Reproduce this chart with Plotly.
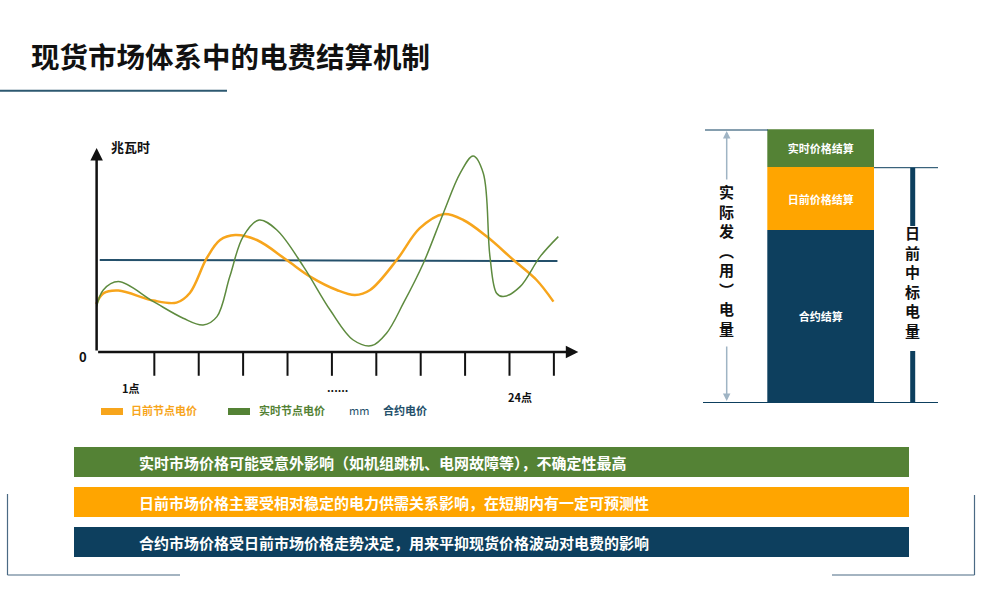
import plotly.graph_objects as go

W, H = 989, 599
FONT = "Noto Sans CJK SC"

# ---------------- data ----------------
title_text = "现货市场体系中的电费结算机制"

# 日前节点电价 (day-ahead nodal price)
da_x = [-0.31, -0.15, 0.19, 0.98, 1.50, 1.80, 2.18, 2.48, 2.82, 3.31, 3.98, 4.51,
        5.11, 5.52, 5.86, 6.46, 6.98, 7.51, 7.96, 8.49, 9.09, 9.61, 9.99]
da_y = [24, 29.3, 30.7, 25.7, 24.7, 29.5, 46.9, 56, 58.5, 56, 46, 37.7,
        31, 28.5, 31, 46, 61.9, 68.9, 66, 57.7, 46, 36, 25.2]

# 实时节点电价 (real-time nodal price)
rt_x = [-0.30, -0.15, 0.19, 0.98, 1.65, 2.10, 2.41, 2.70, 3.00, 3.36, 3.76, 4.36,
        4.96, 5.48, 5.90, 6.23, 6.61, 7.06, 7.51, 7.89, 8.18, 8.41, 8.56, 8.71,
        8.86, 9.24, 9.69, 10.10]
rt_y = [22.7, 31, 35.2, 25.2, 16.9, 13.5, 17.7, 37.7, 57.7, 66, 61, 42.7,
        21, 6, 3.2, 9.4, 24.4, 44.4, 69.4, 89.4, 98, 89.4, 47.7, 29.4,
        27.7, 32.7, 47.7, 57.7]

# 合约电价 (contract price)
ct_x = [-0.23, 10.08]
ct_y = [46, 45.5]

tick_x = [1, 2, 3, 4, 5, 6, 7, 8, 9, 10]
x_labels = ["1点", "......", "24点"]
legend_labels = ["日前节点电价", "实时节点电价", "合约电价"]

# settlement stack (share of actual energy)
settle_labels = ["合约结算", "日前价格结算", "实时价格结算"]
settle_values = [63, 23, 14]

left_vtext = ["实", "际", "发", "︵", "用", "︶", "电", "量"]
right_vtext = ["日", "前", "中", "标", "电", "量"]

banner_texts = [
    "实时市场价格可能受意外影响（如机组跳机、电网故障等），不确定性最高",
    "日前市场价格主要受相对稳定的电力供需关系影响，在短期内有一定可预测性",
    "合约市场价格受日前市场价格走势决定，用来平抑现货价格波动对电费的影响",
]

# ---------------- styles ----------------
ORANGE = "#F7A51C"
GREEN_LINE = "#5E8B3F"
BLUE_LINE = "#24506B"
BAR_GREEN = "#548235"
BAR_ORANGE = "#FFA500"
NAVY = "#0D3F5E"
SLATE = "#4A6A84"


def X(px):
    return px / W


def Y(py):
    return 1 - py / H


fig = go.Figure()

fig.add_trace(go.Scatter(x=ct_x, y=ct_y, mode="lines",
                         line=dict(color=BLUE_LINE, width=2), showlegend=False))
fig.add_trace(go.Scatter(x=da_x, y=da_y, mode="lines",
                         line=dict(color=ORANGE, width=2.5, shape="spline", smoothing=1.0),
                         showlegend=False))
fig.add_trace(go.Scatter(x=rt_x, y=rt_y, mode="lines",
                         line=dict(color=GREEN_LINE, width=1.5, shape="spline", smoothing=1.0),
                         showlegend=False))

bar_colors = [NAVY, BAR_ORANGE, BAR_GREEN]
for lab, val, col in zip(settle_labels, settle_values, bar_colors):
    fig.add_trace(go.Bar(x=[0], y=[val], xaxis="x2", yaxis="y2", width=1,
                         marker=dict(color=col, line=dict(width=0)),
                         text=["<b>" + lab + "</b>"], textposition="inside",
                         insidetextanchor="middle", textangle=0,
                         textfont=dict(color="white", size=11, family=FONT),
                         showlegend=False, hoverinfo="skip"))

shapes = []
annotations = []


def label(px, py, text, size, color="#111111", xanchor="center", bold=True):
    annotations.append(dict(x=X(px), y=Y(py), xref="paper", yref="paper", showarrow=False,
                            xanchor=xanchor, yanchor="middle",
                            text=("<b>" + text + "</b>") if bold else text,
                            font=dict(size=size, color=color, family=FONT)))


def pline(x0, y0, x1, y1, color, width):
    shapes.append(dict(type="line", xref="paper", yref="paper", x0=X(x0), x1=X(x1),
                       y0=Y(y0), y1=Y(y1), line=dict(color=color, width=width)))


def prect(x0, y0, x1, y1, color):
    shapes.append(dict(type="rect", xref="paper", yref="paper", x0=X(x0), x1=X(x1),
                       y0=Y(y1), y1=Y(y0), fillcolor=color, line=dict(width=0)))


# title + underline
label(29, 56, title_text, 28.5, xanchor="left")
pline(0, 90.7, 227, 90.7, "#2D5870", 2)

# axes with arrows
annotations.append(dict(x=10.55, y=0, ax=-0.3, ay=0, xref="x", yref="y", axref="x", ayref="y",
                        showarrow=True, arrowhead=2, arrowsize=1, arrowwidth=2.5,
                        arrowcolor="#111111", text=""))
annotations.append(dict(x=-0.3, y=102, ax=-0.3, ay=0, xref="x", yref="y", axref="x", ayref="y",
                        showarrow=True, arrowhead=2, arrowsize=1, arrowwidth=2.5,
                        arrowcolor="#111111", text=""))
for tx in tick_x:
    shapes.append(dict(type="line", xref="x", yref="y", x0=tx, x1=tx, y0=0, y1=-11.9,
                       line=dict(color="#111111", width=2)))

label(130, 146, "兆瓦时", 13)
label(83, 357, "0", 13)
for lab, px, py in zip(x_labels, [131, 337, 520], [388, 387, 397]):
    label(px, py, lab, 11)

# custom legend
prect(101, 408, 123, 415, ORANGE)
prect(228, 408, 250, 415, BAR_GREEN)
label(129, 410, legend_labels[0], 11, ORANGE, "left")
label(257, 410, legend_labels[1], 11, BAR_GREEN, "left")
label(347, 410, "mm", 11, BLUE_LINE, "left", bold=False)
label(381, 410, legend_labels[2], 11, BLUE_LINE, "left")

# right panel lines
pline(705, 130, 768, 130, NAVY, 1)
pline(703, 402.5, 938, 402.5, NAVY, 1)
pline(874, 167.7, 938, 167.7, NAVY, 1)
pline(912.7, 167.7, 912.7, 226, NAVY, 5)
pline(912.7, 351, 912.7, 402.5, NAVY, 5)

# left double arrow
annotations.append(dict(x=X(726.7), y=Y(131), ax=0, ay=50, xref="paper", yref="paper",
                        showarrow=True, arrowhead=2, arrowsize=1, arrowwidth=1.5,
                        arrowcolor="#9FB4C4", text=""))
annotations.append(dict(x=X(726.7), y=Y(401), ax=0, ay=-56, xref="paper", yref="paper",
                        showarrow=True, arrowhead=2, arrowsize=1, arrowwidth=1.5,
                        arrowcolor="#9FB4C4", text=""))

# vertical texts (one character per line)
label(726.7, 260, "<br>".join(left_vtext), 15)
label(912.7, 281, "<br>".join(right_vtext), 15)

# bottom banners
banner_colors = [BAR_GREEN, BAR_ORANGE, NAVY]
banner_tops = [447, 487, 527]
for t, c, top in zip(banner_texts, banner_colors, banner_tops):
    prect(74, top, 909, top + 30, c)
    label(137, top + 15, t, 15, "white", "left")

# corner brackets
pline(7.5, 494, 7.5, 575, SLATE, 1.2)
pline(7.5, 575, 180, 575, SLATE, 1.2)
pline(974.5, 495, 974.5, 575, SLATE, 1.2)
pline(832, 575, 974.5, 575, SLATE, 1.2)

fig.update_layout(
    width=W, height=H,
    margin=dict(l=0, r=0, t=0, b=0),
    paper_bgcolor="white", plot_bgcolor="rgba(0,0,0,0)",
    font=dict(family=FONT),
    barmode="stack", bargap=0,
    xaxis=dict(domain=[X(94.4), X(578.3)], range=[-0.35, 10.55], visible=False, fixedrange=True),
    yaxis=dict(domain=[Y(376), Y(148)], range=[-12, 102], visible=False, fixedrange=True),
    xaxis2=dict(domain=[X(767.3), X(874.3)], range=[-0.5, 0.5], visible=False,
                anchor="y2", fixedrange=True),
    yaxis2=dict(domain=[Y(402.5), Y(129.3)], range=[0, 100], visible=False,
                anchor="x2", fixedrange=True),
    shapes=shapes,
    annotations=annotations,
    showlegend=False,
)

fig.write_html("out.html",
               config={"displayModeBar": False},
               post_script="document.body.style.margin='0';document.body.style.overflow='hidden';")
